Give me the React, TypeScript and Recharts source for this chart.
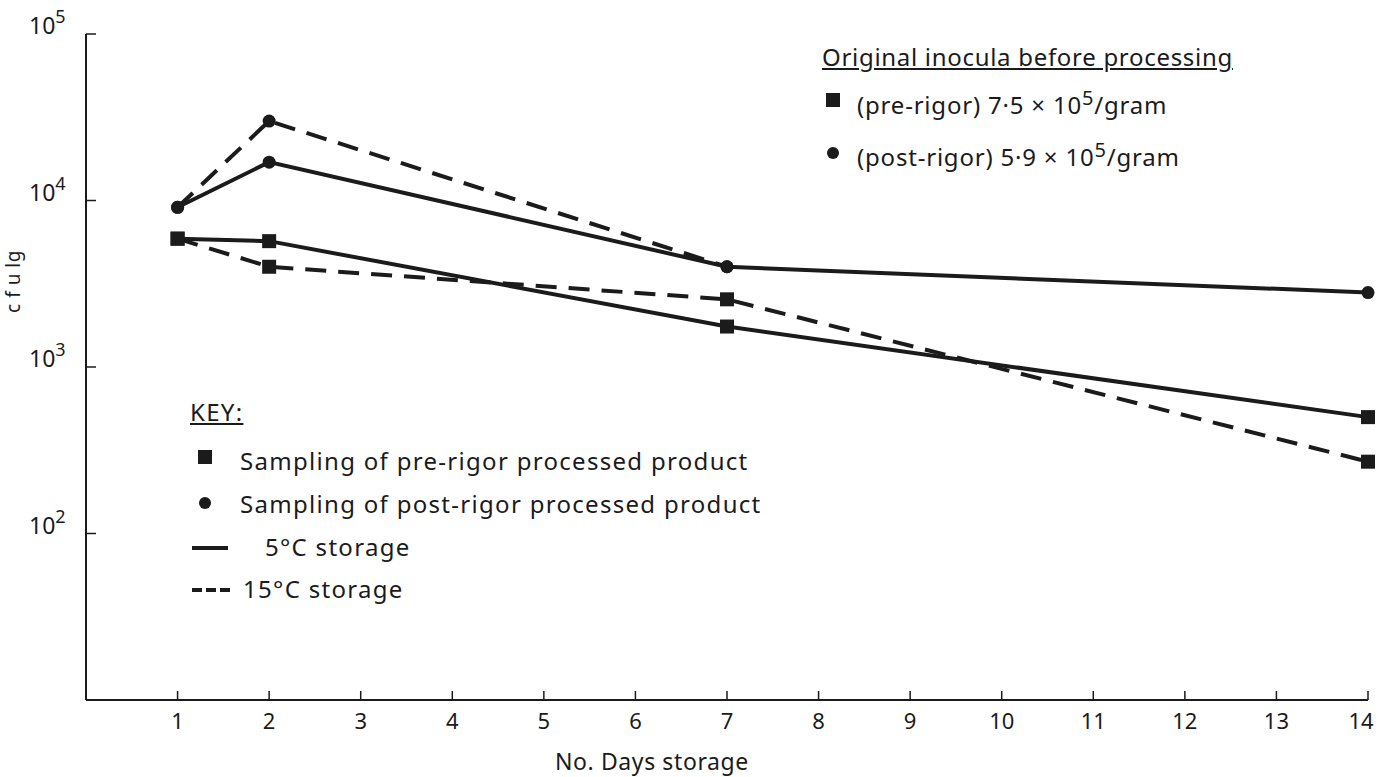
import React from 'react';
import { LineChart, Line, XAxis, YAxis } from 'recharts';

const days = [1, 2, 7, 14];
const preRigor5C = [5900, 5700, 1750, 500];
const preRigor15C = [5900, 4000, 2550, 270];
const postRigor5C = [9100, 17000, 4000, 2800];
const postRigor15C = [9100, 30000, 4000, null];

const dayTicks = [1, 2, 3, 4, 5, 6, 7, 8, 9, 10, 11, 12, 13, 14];
const decadeTicks = [10, 100, 1000, 10000, 100000];

const INK = '#1b1b1b';
const FONT = '"Noto Sans", "DejaVu Sans", sans-serif';

const data = days.map((day, i) => ({
  day,
  pre5: preRigor5C[i],
  pre15: preRigor15C[i],
  post5: postRigor5C[i],
  post15: postRigor15C[i],
}));

const squareDot = (props: any) => {
  const { cx, cy, index, dataKey } = props;
  if (cx == null || cy == null || props.value == null) return <g key={`${dataKey}-${index}`} />;
  return <rect key={`${dataKey}-${index}`} x={cx - 7} y={cy - 7} width={14} height={14} fill={INK} />;
};

const circleDot = (props: any) => {
  const { cx, cy, index, dataKey } = props;
  if (cx == null || cy == null || props.value == null) return <g key={`${dataKey}-${index}`} />;
  return <circle key={`${dataKey}-${index}`} cx={cx} cy={cy} r={6.5} fill={INK} />;
};

const DayTick = (props: any) => {
  const { x, y, payload } = props;
  // last label sits against the right edge, nudge it in
  const lx = payload.value === 14 ? x - 7 : x;
  return (
    <g>
      <line x1={x} y1={y} x2={x} y2={y - 9} stroke={INK} strokeWidth={1.5} />
      <text x={lx} y={y + 29} textAnchor="middle" fontSize={22} fill={INK} fontFamily={FONT}>
        {payload.value}
      </text>
    </g>
  );
};

const DecadeTick = (props: any) => {
  const { x, y, payload } = props;
  const exp = Math.round(Math.log10(payload.value));
  if (exp < 2) return <g />;
  return (
    <g>
      <line x1={x} y1={y} x2={x + 10} y2={y} stroke={INK} strokeWidth={1.5} />
      <text x={29} y={y} fontSize={23} fill={INK} fontFamily={FONT}>
        10<tspan dy={-11} fontSize={18}>{exp}</tspan>
      </text>
    </g>
  );
};

const SquareMark = () => (
  <svg width={16} height={16} style={{ display: 'block' }}>
    <rect x={1} y={1} width={14} height={14} fill={INK} />
  </svg>
);
const CircleMark = () => (
  <svg width={16} height={16} style={{ display: 'block' }}>
    <circle cx={8} cy={8} r={6} fill={INK} />
  </svg>
);

const text: React.CSSProperties = {
  position: 'absolute',
  fontFamily: FONT,
  fontSize: 24,
  color: INK,
  whiteSpace: 'nowrap',
  lineHeight: 1,
  letterSpacing: 1.3,
};

export default function App() {
  return (
    <div style={{ position: 'absolute', left: 0, top: 0, width: 1379, height: 777, background: '#fff' }}>
      <LineChart width={1379} height={777} data={data} margin={{ top: 34, right: 11, bottom: 47, left: 26 }}>
        <XAxis
          type="number"
          dataKey="day"
          domain={[0, 14]}
          ticks={dayTicks}
          tickSize={0}
          tickMargin={0}
          tick={<DayTick />}
          stroke={INK}
          strokeWidth={2}
          height={30}
        />
        <YAxis
          scale="log"
          domain={[10, 100000]}
          ticks={decadeTicks}
          allowDataOverflow
          tickSize={0}
          tickMargin={0}
          tick={<DecadeTick />}
          stroke={INK}
          strokeWidth={2}
          width={60}
        />
        <Line dataKey="post15" stroke={INK} strokeWidth={4} strokeDasharray="21 12" dot={circleDot} isAnimationActive={false} />
        <Line dataKey="post5" stroke={INK} strokeWidth={4} dot={circleDot} isAnimationActive={false} />
        <Line dataKey="pre15" stroke={INK} strokeWidth={4} strokeDasharray="21 12" dot={squareDot} isAnimationActive={false} />
        <Line dataKey="pre5" stroke={INK} strokeWidth={4} dot={squareDot} isAnimationActive={false} />
      </LineChart>

      <div style={{ ...text, left: -27, top: 272, width: 80, transform: 'rotate(-90deg)', fontSize: 19, letterSpacing: 0.5, textAlign: 'center' }}>
        c f u lg
      </div>
      <div style={{ ...text, left: 555, top: 750, fontSize: 23, letterSpacing: 0.6 }}>No. Days storage</div>

      <div style={{ ...text, left: 822, top: 45, letterSpacing: 0.7, textDecoration: 'underline' }}>Original inocula before processing</div>
      <div style={{ ...text, left: 825, top: 92 }}><SquareMark /></div>
      <div style={{ ...text, left: 857, top: 88, letterSpacing: 0.8 }}>
        (pre-rigor) 7·5 × 10<sup style={{ fontSize: 20 }}>5</sup>/gram
      </div>
      <div style={{ ...text, left: 825, top: 145 }}><CircleMark /></div>
      <div style={{ ...text, left: 857, top: 140, letterSpacing: 0.8 }}>
        (post-rigor) 5·9 × 10<sup style={{ fontSize: 20 }}>5</sup>/gram
      </div>

      <div style={{ ...text, left: 190, top: 400, textDecoration: 'underline' }}>KEY:</div>
      <div style={{ ...text, left: 197, top: 449 }}><SquareMark /></div>
      <div style={{ ...text, left: 240, top: 449 }}>Sampling of pre-rigor processed product</div>
      <div style={{ ...text, left: 197, top: 495 }}><CircleMark /></div>
      <div style={{ ...text, left: 240, top: 492 }}>Sampling of post-rigor processed product</div>
      <div style={{ position: 'absolute', left: 192, top: 546, width: 36, height: 4, background: INK }} />
      <div style={{ ...text, left: 265, top: 535 }}>5°C storage</div>
      <svg style={{ position: 'absolute', left: 192, top: 586 }} width={40} height={8}>
        <line x1={0} y1={4} x2={40} y2={4} stroke={INK} strokeWidth={4} strokeDasharray="10 4" />
      </svg>
      <div style={{ ...text, left: 243, top: 577 }}>15°C storage</div>
    </div>
  );
}
